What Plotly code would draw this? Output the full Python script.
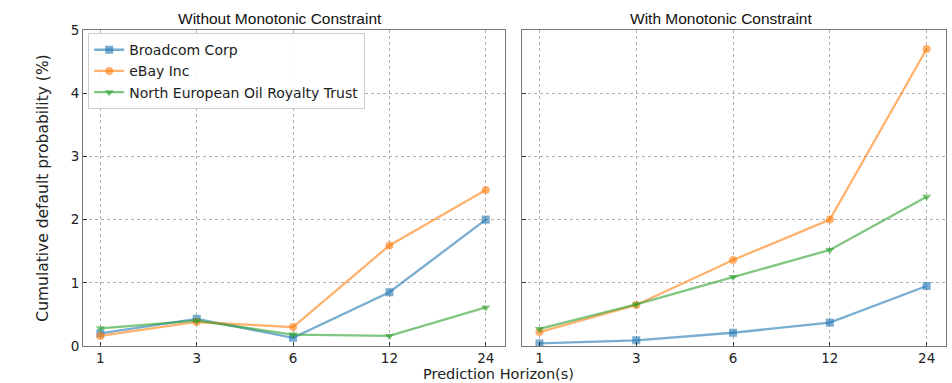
import plotly.graph_objects as go
from plotly.subplots import make_subplots

horizons = ["1", "3", "6", "12", "24"]
series_names = ["Broadcom Corp", "eBay Inc", "North European Oil Royalty Trust"]

without_broadcom = [0.20, 0.43, 0.13, 0.85, 2.00]
without_ebay = [0.16, 0.38, 0.30, 1.59, 2.47]
without_neort = [0.28, 0.40, 0.18, 0.16, 0.61]

with_broadcom = [0.04, 0.09, 0.21, 0.37, 0.95]
with_ebay = [0.22, 0.65, 1.36, 2.00, 4.70]
with_neort = [0.27, 0.66, 1.09, 1.52, 2.36]

y_ticks = [0, 1, 2, 3, 4, 5]

colors = ["rgba(31,119,180,0.6)", "rgba(255,127,14,0.6)", "rgba(44,160,44,0.6)"]
symbols = ["square", "circle", "triangle-down"]

fig = make_subplots(rows=1, cols=2, horizontal_spacing=0.0,
                    subplot_titles=["Without Monotonic Constraint", "With Monotonic Constraint"])

for col, data in [(1, [without_broadcom, without_ebay, without_neort]),
                  (2, [with_broadcom, with_ebay, with_neort])]:
    for i, (name, ys) in enumerate(zip(series_names, data)):
        fig.add_trace(go.Scatter(
            x=list(range(len(horizons))), y=ys, mode="lines+markers", name=name,
            line=dict(color=colors[i], width=2.3),
            marker=dict(symbol=symbols[i], size=8, color=colors[i]),
            showlegend=(col == 1),
        ), row=1, col=col)

font_tick = dict(family="DejaVu Sans", size=13.5, color="#222")
axis_common = dict(
    showline=True, mirror=True, linecolor="#777", linewidth=1,
    showgrid=True, gridcolor="#b0b0b0", griddash="dot", gridwidth=1,
    ticks="inside", ticklen=4, tickcolor="#333", zeroline=False,
    tickfont=font_tick,
)
for col in (1, 2):
    fig.update_xaxes(tickmode="array", tickvals=list(range(len(horizons))), ticktext=horizons,
                     range=[-0.18, 4.2], **axis_common, row=1, col=col)
    fig.update_yaxes(range=[0, 5], tickvals=y_ticks, **axis_common, row=1, col=col)
fig.update_yaxes(showticklabels=False, row=1, col=2)

fig.update_layout(xaxis=dict(domain=[0.0, 0.489]), xaxis2=dict(domain=[0.5087, 1.0]))
fig.update_yaxes(title_text="Cumulative default probability (%)",
                 title_font=dict(family="DejaVu Sans", size=15.5, color="#222"),
                 title_standoff=18, row=1, col=1)

fig.add_annotation(text="Prediction Horizon(s)", x=(498 - 83) / 863, y=-0.058,
                   xref="paper", yref="paper",
                   showarrow=False, xanchor="center", yanchor="top",
                   font=dict(family="DejaVu Sans", size=14.5, color="#222"))

title_x = {"Without Monotonic Constraint": (280 - 83) / 863,
           "With Monotonic Constraint": (721 - 83) / 863}
for ann in fig.layout.annotations:
    if ann.text in title_x:
        ann.font = dict(family="Liberation Sans", size=15.5, color="#111")
        ann.x = title_x[ann.text]
        ann.yshift = 1

fig.update_layout(
    width=952, height=383,
    margin=dict(l=83, r=6, t=30, b=37),
    plot_bgcolor="white", paper_bgcolor="white",
    legend=dict(x=0.006, y=0.99, xanchor="left", yanchor="top",
                bgcolor="rgba(255,255,255,0.9)", bordercolor="#cccccc", borderwidth=1,
                font=dict(family="DejaVu Sans", size=14, color="#222"),
                tracegroupgap=0, itemwidth=30),
)

fig.write_html("out.html", config={"displayModeBar": False},
               post_script="document.body.style.margin='0';document.body.style.overflow='hidden';")
